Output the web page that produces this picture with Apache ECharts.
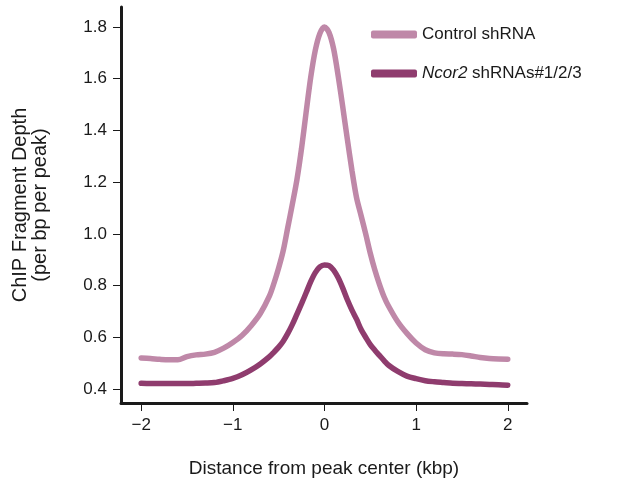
<!DOCTYPE html>
<html>
<head>
<meta charset="utf-8">
<script src="https://cdn.jsdelivr.net/npm/echarts@6/dist/echarts.min.js"></script>
<style>
  html, body { margin: 0; padding: 0; background: #fff; }
  #main { width: 621px; height: 487px; }
</style>
</head>
<body>
<div id="main"></div>
<script>
// distance from peak center (kbp)
var distKbp = [-2.0, -1.9, -1.8, -1.7, -1.6, -1.5, -1.4, -1.3, -1.2, -1.1, -1.0, -0.9, -0.8, -0.7, -0.6,
    -0.55, -0.5, -0.45, -0.4, -0.35, -0.3, -0.25, -0.2, -0.15, -0.1, -0.05, 0,
    0.05, 0.1, 0.15, 0.2, 0.25, 0.3, 0.35, 0.4, 0.45, 0.5, 0.55, 0.6, 0.65,
    0.7, 0.8, 0.9, 1.0, 1.1, 1.2, 1.3, 1.4, 1.5, 1.6, 1.7, 1.8, 1.9, 2.0];
var controlDepth = [0.52, 0.518, 0.515, 0.513, 0.513, 0.525, 0.532, 0.535, 0.542, 0.558, 0.58, 0.607, 0.645, 0.692, 0.76,
    0.81, 0.868, 0.935, 1.025, 1.115, 1.21, 1.33, 1.47, 1.605, 1.71, 1.775, 1.80,
    1.778, 1.715, 1.61, 1.49, 1.365, 1.245, 1.14, 1.07, 1.0, 0.925, 0.86, 0.805, 0.757,
    0.72, 0.66, 0.615, 0.578, 0.552, 0.54, 0.536, 0.535, 0.533, 0.528, 0.522, 0.518, 0.516, 0.515];
var ncor2Depth = [0.422, 0.421, 0.421, 0.421, 0.421, 0.421, 0.422, 0.423, 0.425, 0.432, 0.441, 0.455, 0.474, 0.497, 0.525,
    0.543, 0.562, 0.585, 0.615, 0.65, 0.69, 0.73, 0.772, 0.815, 0.85, 0.872, 0.88,
    0.877, 0.86, 0.83, 0.79, 0.745, 0.705, 0.67, 0.63, 0.6, 0.572, 0.55, 0.53, 0.51,
    0.492, 0.468, 0.45, 0.44, 0.432, 0.428, 0.425, 0.422, 0.421, 0.42, 0.419, 0.418, 0.417, 0.415];
var xTicks = [-2, -1, 0, 1, 2];
var yTicks = [0.4, 0.6, 0.8, 1.0, 1.2, 1.4, 1.6, 1.8];
var seriesNames = ['Control shRNA', 'Ncor2 shRNAs#1/2/3'];

var FONT = 'Liberation Sans, Arial, sans-serif';

function pairs(xs, ys) {
    var out = [];
    for (var i = 0; i < xs.length; ++i) {
        out.push([xs[i], ys[i]]);
    }
    return out;
}

var chart = echarts.init(document.getElementById('main'));
var option = {
    animation: false,
    grid: {
        left: 121,
        right: 94,
        top: 7,
        bottom: 84
    },
    legend: {
        orient: 'vertical',
        left: 366,
        top: 21,
        itemWidth: 46,
        itemHeight: 8,
        itemGap: 22,
        icon: 'roundRect',
        data: seriesNames,
        textStyle: {
            fontFamily: FONT,
            fontSize: 17,
            color: '#1a1a1a',
            rich: {
                it: { fontFamily: FONT, fontSize: 17, fontStyle: 'italic', color: '#1a1a1a' }
            }
        },
        formatter: function (name) {
            if (name.indexOf('Ncor2') === 0) {
                return '{it|Ncor2}' + name.slice(5);
            }
            return name;
        }
    },
    xAxis: {
        type: 'value',
        min: -2.22,
        max: 2.21,
        name: 'Distance from peak center (kbp)',
        nameLocation: 'middle',
        nameGap: 56,
        nameTextStyle: { fontFamily: FONT, fontSize: 19, color: '#1a1a1a' },
        axisLine: { show: true, onZero: false, lineStyle: { color: '#1a1a1a', width: 3 } },
        axisTick: { show: true, length: 8, customValues: xTicks, lineStyle: { color: '#1a1a1a', width: 1 } },
        axisLabel: {
            customValues: xTicks,
            margin: 14,
            fontFamily: FONT,
            fontSize: 17,
            color: '#1a1a1a',
            formatter: function (v) { return v < 0 ? '\u2212' + Math.abs(v) : String(v); }
        },
        splitLine: { show: false }
    },
    yAxis: {
        type: 'value',
        min: 0.346,
        max: 1.877,
        name: 'ChIP Fragment Depth\n(per bp per peak)',
        nameLocation: 'middle',
        nameGap: 71,
        nameTextStyle: { fontFamily: FONT, fontSize: 20, color: '#1a1a1a', lineHeight: 20 },
        axisLine: { show: true, onZero: false, lineStyle: { color: '#1a1a1a', width: 3 } },
        axisTick: { show: true, length: 8, customValues: yTicks, lineStyle: { color: '#1a1a1a', width: 1 } },
        axisLabel: {
            customValues: yTicks,
            margin: 14,
            fontFamily: FONT,
            fontSize: 17,
            color: '#1a1a1a',
            formatter: function (v) { return v.toFixed(1); }
        },
        splitLine: { show: false }
    },
    series: [
        {
            name: seriesNames[0],
            type: 'line',
            smooth: 0.3,
            showSymbol: false,
            color: '#bf88a8',
            lineStyle: { width: 5.5, color: '#bf88a8', cap: 'round' },
            data: pairs(distKbp, controlDepth)
        },
        {
            name: seriesNames[1],
            type: 'line',
            smooth: 0.3,
            showSymbol: false,
            color: '#8f3c6e',
            lineStyle: { width: 5.5, color: '#8f3c6e', cap: 'round' },
            data: pairs(distKbp, ncor2Depth)
        }
    ]
};
chart.setOption(option);
</script>
</body>
</html>
